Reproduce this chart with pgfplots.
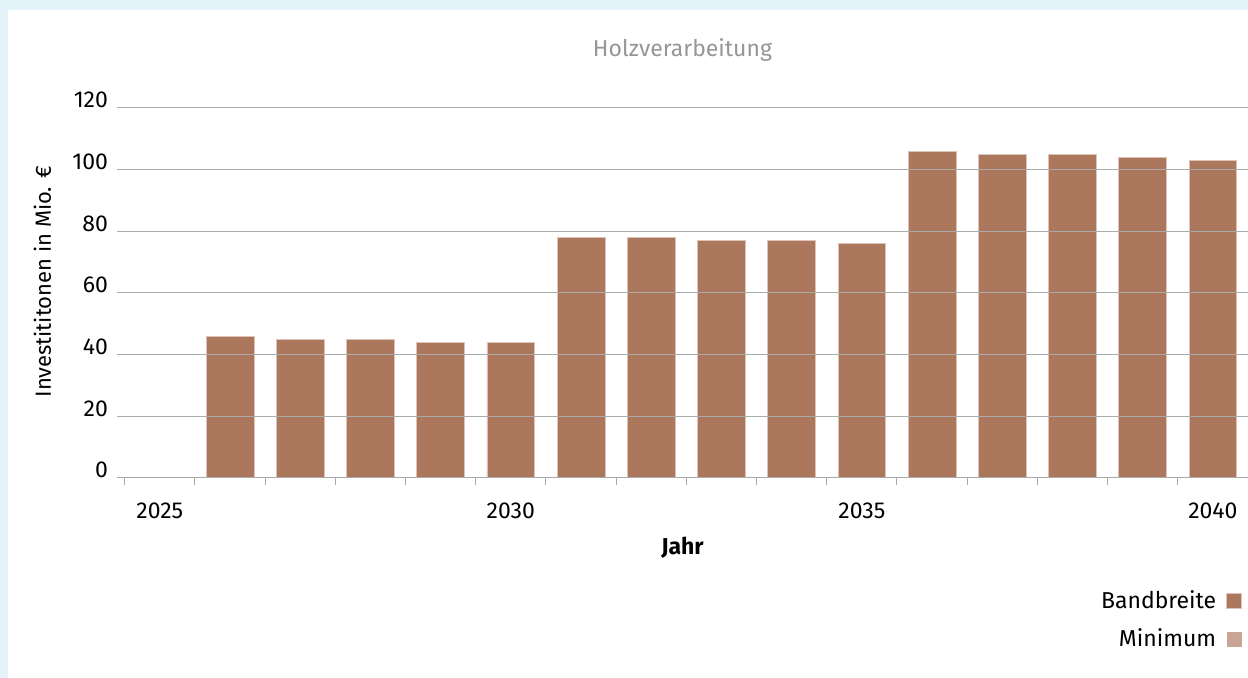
\documentclass[border=0pt]{standalone}
\usepackage{fontspec}
\setmainfont{Fira Sans}
\usepackage{pgfplots}
\pgfplotsset{compat=1.18}
\usepackage{pgfplotstable}

\definecolor{bandbreite}{RGB}{171,120,93}
\definecolor{minimum}{RGB}{201,163,147}
\definecolor{barEdge}{RGB}{222,196,184}
\definecolor{frameBlue}{RGB}{228,242,250}
\definecolor{gridGray}{RGB}{170,170,170}
\definecolor{titleGray}{RGB}{150,150,150}

\pgfplotstableread{
jahr wert
2026 46
2027 45
2028 45
2029 44
2030 44
2031 78
2032 78
2033 77
2034 77
2035 76
2036 106
2037 105
2038 105
2039 104
2040 103
}\bandbreite

\begin{document}
\begin{tikzpicture}
% canvas: 1248x678 px at 0.5pt per px
\useasboundingbox (0,0) rectangle (624pt,339pt);
\fill[frameBlue] (0,0) rectangle (624pt,339pt);
\fill[white] (4pt,0) rectangle (624pt,334pt);
\clip (0,0) rectangle (624pt,339pt);
\begin{axis}[
    at={(58.5pt,100pt)}, anchor=south west,
    scale only axis,
    width=565.5pt, height=185pt,
    font=\fontsize{11.5}{13}\selectfont,
    /pgf/number format/assume math mode=true,
    /pgf/number format/1000 sep={},
    xmin=2024.39, xmax=2040.5,
    ymin=0, ymax=120,
    ytick={0,20,...,120},
    xtick={2024.5,2025.5,...,2040.5},
    xticklabels={},
    extra x ticks={2025,2030,2035,2040},
    extra x tick labels={2025,2030,2035,2040},
    extra x tick style={major tick length=0pt, grid=none,
        xticklabel style={yshift=-9pt}},
    xtick pos=bottom, xtick align=outside,
    major tick length=3.5pt,
    x tick style={gridGray, line width=0.5pt},
    y tick style={draw=none},
    ymajorgrids,
    grid style={gridGray, line width=0.5pt},
    axis line style={draw=none},
    axis on top,
    yticklabel style={anchor=base east, xshift=-1pt},
    title={Holzverarbeitung},
    title style={text=titleGray, at={(axis description cs:0.5,1.124)}, anchor=center},
    xlabel={\bfseries Jahr},
    xlabel style={at={(axis description cs:0.5,-0.189)}, anchor=center},
    ylabel={Investititonen in Mio. €},
    ylabel style={at={(axis description cs:-0.066,0.53)}, anchor=center,
        font=\fontsize{11}{13}\selectfont},
    legend style={at={(axis description cs:0.995,-0.293)}, anchor=north east,
        draw=none, fill=none, inner sep=0pt, row sep=4.5pt,
        cells={anchor=east}, legend plot pos=right},
    legend image code/.code={\path (0pt,0pt); \fill[#1] (3pt,-3.75pt) rectangle (10.5pt,3.75pt);},
]
\addplot[ybar, bar width=0.68, fill=bandbreite, draw=barEdge, line width=0.4pt]
    table[x=jahr, y=wert] {\bandbreite};
\addlegendentry{Bandbreite}
\addlegendimage{fill=minimum, draw=none}
\addlegendentry{Minimum}
\end{axis}
\end{tikzpicture}
\end{document}
